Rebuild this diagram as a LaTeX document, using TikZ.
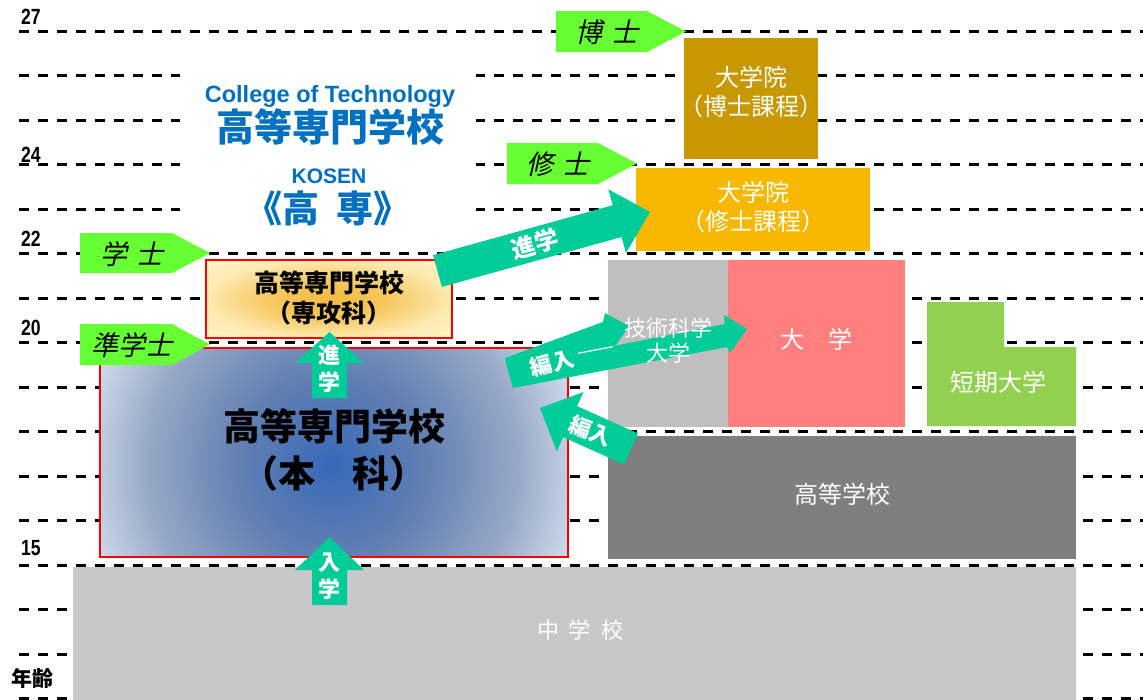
\documentclass[tikz,border=0pt]{standalone}
\usepackage{fontspec}
\usepackage{graphicx}
\setmainfont{Liberation Sans}
\newfontfamily\jp{Noto Sans CJK JP}
\newfontfamily\jpit[FakeSlant=0.22]{Noto Sans CJK JP}
\definecolor{titleblue}{RGB}{0,112,192}
\definecolor{labgreen}{RGB}{102,255,51}
\definecolor{teal}{RGB}{0,204,153}
\definecolor{hakaseC}{RGB}{201,151,0}
\definecolor{shuushiC}{RGB}{248,184,0}
\definecolor{gikaC}{RGB}{191,191,191}
\definecolor{daigakuC}{RGB}{255,127,127}
\definecolor{tankiC}{RGB}{146,208,80}
\definecolor{koukouC}{RGB}{127,127,127}
\definecolor{chuuC}{RGB}{200,200,200}
\definecolor{hkA}{RGB}{55,105,185}
\definecolor{hkB}{RGB}{98,128,178}
\definecolor{hkC}{RGB}{150,168,198}
\definecolor{hkD}{RGB}{214,226,240}
\definecolor{skA}{RGB}{242,186,66}
\definecolor{skB}{RGB}{246,200,95}
\definecolor{skC}{RGB}{254,234,178}
\definecolor{skD}{RGB}{255,244,203}
\pgfdeclareradialshading{honkashade}{\pgfpoint{0bp}{0bp}}{color(0bp)=(hkA); color(9bp)=(hkB); color(17.5bp)=(hkC); color(25bp)=(hkD); color(50bp)=(hkD)}
\pgfdeclareradialshading{senkoushade}{\pgfpoint{0bp}{0bp}}{color(0bp)=(skA); color(12bp)=(skB); color(25bp)=(skC); color(36bp)=(skD); color(50bp)=(skD)}
\newcommand{\sps}[2]{{\spaceskip=#1\relax #2}}
\tikzset{
  dashline/.style={line width=3pt, dash pattern=on 10pt off 9pt, draw=black},
  plainbox/.style={draw=none, inner sep=0pt, outer sep=0pt},
  wtext/.style={text=white, inner sep=0pt, align=center, font=\jp\fontsize{24}{29}\selectfont},
  btext/.style={text=black, inner sep=0pt, align=center},
  labtext/.style={text=black, inner sep=0pt, font=\jpit\fontsize{27}{30}\selectfont},
  num/.style={inner sep=0pt, text=black, font=\bfseries\fontsize{22}{24}\selectfont},
  arrtext/.style={text=white, inner sep=0pt, align=center, font=\jp\bfseries\fontsize{22}{27}\selectfont},
  pent/.style={fill=labgreen, draw=none},
  blockarrow/.style={fill=teal, draw=none},
  ttl/.style={text=titleblue, inner sep=0pt, align=center}
}
\begin{document}
\begin{tikzpicture}[x=1pt,y=-1pt]
\useasboundingbox (0,0) rectangle (1143,699);
\fill[white] (0,0) rectangle (1143,699);
% dashed age lines
\foreach \k in {0,...,15}{
  \draw[dashline] (19,{31+44.5*\k}) -- (1143,{31+44.5*\k});
}
% title background
\fill[white] (180,50) rectangle (476,236);
% age labels
\node[num, anchor=base west] (a27) at (21,24) {\scalebox{0.8}[1]{27}};
\node[num, anchor=base west] (a24) at (21,162) {\scalebox{0.8}[1]{24}};
\node[num, anchor=base west] (a22) at (21,246) {\scalebox{0.8}[1]{22}};
\node[num, anchor=base west] (a20) at (21,335) {\scalebox{0.8}[1]{20}};
\node[num, anchor=base west] (a15) at (21,555) {\scalebox{0.8}[1]{15}};
\node[btext, font=\jp\bfseries\fontsize{21}{24}\selectfont] (nenrei) at (33,678) {年齢};
% title
\node[ttl, anchor=base, font=\bfseries\fontsize{23.5}{26}\selectfont] (college) at (330,102) {College of Technology};
\node[ttl, font=\jp\bfseries\fontsize{38}{40}\selectfont] (kosenjp) at (330,127) {高等専門学校};
\node[ttl, anchor=base, font=\bfseries\fontsize{21}{24}\selectfont] (kosen) at (329,183) {KOSEN};
\node[ttl, font=\jp\bfseries\fontsize{37}{40}\selectfont] (kousen) at (328,208) {\sps{18pt}{《高 専》}};
% boxes
\node[plainbox, fill=hakaseC, minimum width=134pt, minimum height=121pt] (hakase) at (751,98.5) {};
\node[plainbox, fill=shuushiC, minimum width=234pt, minimum height=83pt] (shuushi) at (753,209.5) {};
\node[plainbox, fill=gikaC, minimum width=120pt, minimum height=167pt] (gika) at (668,343.5) {};
\node[plainbox, fill=daigakuC, minimum width=177pt, minimum height=167pt] (daigaku) at (816.5,343.5) {};
\fill[tankiC] (927,302) -- (1004,302) -- (1004,347) -- (1076,347) -- (1076,426) -- (927,426) -- cycle;
\node[plainbox, fill=koukouC, minimum width=468pt, minimum height=123pt] (koukou) at (842,497.5) {};
\node[plainbox, fill=chuuC, minimum width=1003pt, minimum height=133pt] (chuu) at (574.5,633) {};
% senkouka box
\shade[shading=senkoushade] (206,260) rectangle (452,338);
\node[plainbox, draw=red, line width=2.5pt, minimum width=246pt, minimum height=78pt] (senkou) at (329,299) {};
% honka box
\begin{scope}
  \clip (100,348) rectangle (568,557);
  \shade[shading=honkashade] (332,465) circle (262pt);
\end{scope}
\node[plainbox, draw=red, line width=2.5pt, minimum width=468pt, minimum height=209pt] (honka) at (334,452.5) {};
% green degree labels
\fill[pent] (556,11) -- (647,11) -- (686,31.5) -- (647,52) -- (556,52) -- cycle;
\fill[pent] (507,143) -- (598,143) -- (637,163.5) -- (598,184) -- (507,184) -- cycle;
\fill[pent] (80,233) -- (172,233) -- (210,253) -- (172,273) -- (80,273) -- cycle;
\fill[pent] (80,324) -- (172,324) -- (210,344.5) -- (172,365) -- (80,365) -- cycle;
\node[labtext] (hakaseL) at (607,32) {\sps{9pt}{博 士}};
\node[labtext] (shuushiL) at (558,164) {\sps{9pt}{修 士}};
\node[labtext] (gakushiL) at (132,254) {\sps{9pt}{学 士}};
\node[labtext] (jungakushiL) at (132,345) {準学士};
% arrows
\fill[blockarrow] (433.1,255.1) -- (612.8,205.2) -- (608.4,189.3) -- (650,212) -- (626,252.9) -- (621.6,237) -- (441.9,286.9) -- cycle;
\fill[blockarrow] (507,367) -- (725,324) -- (724,315) -- (747,329) -- (730,353) -- (727,347) -- (513,388) -- cycle;
\fill[blockarrow] (505,358) -- (603,322) -- (605,313) -- (629,326) -- (616,345) -- (613,346) -- (578,353) -- (507,367) -- cycle;
\draw[white, line width=1.2pt] (578,353.3) -- (613,346.6);
\fill[blockarrow] (638,433.5) -- (577.1,406.1) -- (583.5,392) -- (540,408) -- (556.7,451.2) -- (563.1,437.1) -- (624,464.5) -- cycle;
\fill[blockarrow] (312,398) -- (312,363) -- (295,363) -- (329.5,332) -- (364,363) -- (347,363) -- (347,398) -- cycle;
\fill[blockarrow] (312,605) -- (312,570) -- (295,570) -- (329.5,537) -- (364,570) -- (347,570) -- (347,605) -- cycle;
% texts in boxes
\node[btext, font=\jp\bfseries\fontsize{25}{30}\selectfont] (senkouT) at (329,298) {高等専門学校\\（専攻科）};
\node[btext, font=\jp\bfseries\fontsize{37}{47}\selectfont] (honkaT) at (334,449.5) {高等専門学校\\（本　科）};
\node[wtext] (hakaseT) at (751,92.5) {大学院\\（博士課程）};
\node[wtext] (shuushiT) at (753,207) {大学院\\（修士課程）};
\node[wtext, font=\jp\fontsize{22}{25}\selectfont] (gikaT) at (668,340.5) {技術科学\\大学};
\node[wtext] (daigakuT) at (816.5,339) {大　学};
\node[wtext] (tankiT) at (998,382) {短期大学};
\node[wtext] (koukouT) at (842,494) {高等学校};
\node[wtext, font=\jp\fontsize{22}{25}\selectfont] (chuuT) at (580,630) {\sps{10pt}{中 学 校}};
% arrow labels
\node[arrtext, rotate=15.5, font=\jp\bfseries\fontsize{24}{27}\selectfont] (shingakuD) at (535,244) {進学};
\node[arrtext, rotate=15] (hennyuU) at (552,363) {編入};
\node[arrtext, rotate=-22] (hennyuL) at (591,431) {編入};
\node[arrtext] (shingakuV) at (329.5,368.5) {進\\学};
\node[arrtext] (nyuugakuV) at (329.5,576.5) {入\\学};
\end{tikzpicture}
\end{document}
